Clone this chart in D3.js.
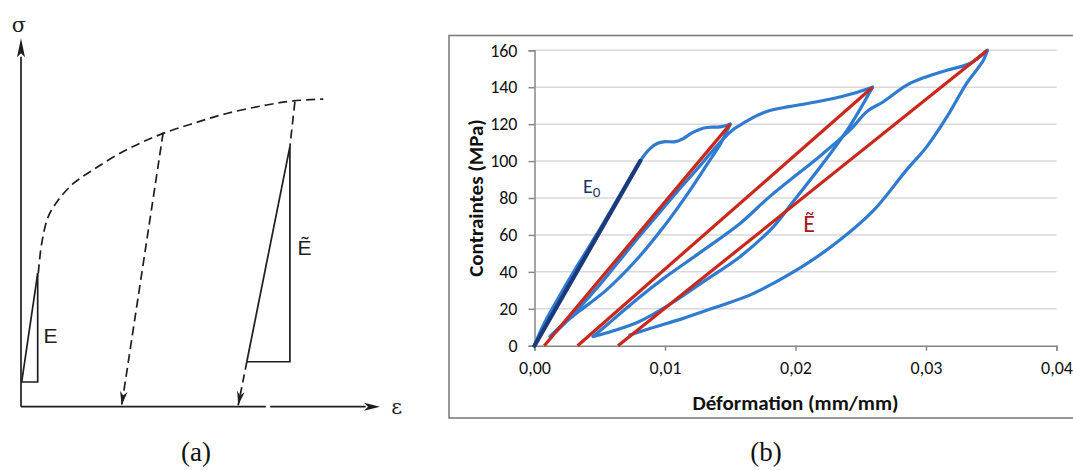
<!DOCTYPE html>
<html><head><meta charset="utf-8">
<script src="https://cdn.jsdelivr.net/npm/d3@7"></script>
<style>body{margin:0;background:#fff} svg{display:block}</style>
</head><body>
<svg id="c" width="1073" height="470"></svg>
<script>
// ================= Panel (b) data =================
const yTicks = [0, 20, 40, 60, 80, 100, 120, 140, 160];
const xTicks = [0, 0.01, 0.02, 0.03, 0.04];
const xTickLabels = ["0,00", "0,01", "0,02", "0,03", "0,04"];
const yTitle = "Contraintes (MPa)";
const xTitle = "Déformation (mm/mm)";

// first loading (then plastic plateau up to 120 MPa)
const load1 = [[0,0],[0.0005,8.5],[0.001,15.5],[0.002,28],[0.003,40],[0.004,51.5],[0.005,63],[0.006,75],[0.007,87],[0.0081,100],
  [0.0085,104],[0.0089,107],[0.0094,109.5],[0.0100,110.5],[0.0108,110.5],[0.0114,112.2],[0.0120,115],[0.0126,117],[0.0132,118.2],[0.0142,118.5],[0.0150,120]];
const unload1 = [[0.0150,120],[0.0143,110],[0.0133,99],[0.0119,84],[0.0099,64.4],[0.0078,46.4],[0.0055,30.1],[0.0032,17.5],[0.0020,10.5],[0.0012,5]];
const reload1 = [[0.0012,5],[0.0020,10],[0.0035,21],[0.0050,33],[0.0065,46],[0.0080,59],[0.0095,71.5],[0.0110,84],[0.0125,96],[0.0137,106],[0.0146,113],
  [0.0153,117.5],[0.0160,120.5],[0.0170,124.5],[0.0181,127.5],[0.0195,129.5],[0.0209,131.2],[0.0229,133.9],[0.0244,136.6],[0.0259,140]];
const unload2 = [[0.0259,140],[0.0242,119.4],[0.0221,98.7],[0.0198,77.9],[0.0183,64.4],[0.01575,48.2],[0.0130,35],[0.0105,23],[0.0080,13],[0.0060,8],[0.0045,5]];
const reload2 = [[0.0045,5],[0.0060,14],[0.0080,26],[0.0100,37],[0.0126,50],[0.01575,66.2],[0.0180,80.6],[0.0221,104],[0.0242,117],[0.0255,127],
  [0.0267,132],[0.0285,141],[0.0300,145.6],[0.0316,149.2],[0.0334,153],[0.0347,160]];
const unload3 = [[0.0347,160],[0.0344,154.6],[0.0331,142],[0.0316,123.9],[0.03005,107.7],[0.0285,95.1],[0.0260,73.4],[0.0234,57.2],[0.0209,44.6],
  [0.0183,33.8],[0.0165,27.4],[0.0140,21.1],[0.0114,14.8],[0.0089,9.4],[0.0073,5.8]];
const blueCurves = [load1, unload1, reload1, unload2, reload2, unload3];

const e0Line = [[0,0],[0.0081,100]];
const redLine1 = [[0.00075,0],[0.0150,120]];
const redLine2 = [[0.0033,0],[0.0259,140]];
const redLine3 = [[0.0064,0],[0.0347,160]];
const redLines = [redLine1, redLine2, redLine3];

// ================= Panel (a) data (schematic units 0..100) =================
const envelopeSolid = [[0.19,6.7],[4.65,36.2]];
const envelopeDashed = [[4.82,36.2],[5.77,44.35],[7.6,51.6],[10.4,56.1],[14.6,60.6],[20.1,64.3],[26.7,68.3],[33.1,71.5],[39.6,74.2],
  [48.0,76.9],[57.3,79.6],[68.4,81.9],[75.8,83.0],[84.2,83.5]];
const unloadA1 = [[39.6,74.4],[28.05,0.4]];
const unloadA2Top = [[76.3,82.8],[74.9,70.6]];
const unloadA2Solid = [[74.9,70.6],[62.9,12.2]];
const unloadA2Bottom = [[62.9,12.2],[60.5,0.4]];
const triE = [[0,6.7],[4.65,6.7],[4.65,36.2]];
const triEt = [[62.9,12.2],[74.9,12.2],[74.9,70.6]];
const axisBreak = [68.2, 69.4];

// ================= drawing =================
const svg = d3.select("#c");

// ---------- panel (b) ----------
const x = d3.scaleLinear().domain([0, 0.04]).range([534.5, 1056.5]);
const y = d3.scaleLinear().domain([0, 160]).range([345.7, 50.3]);
const bFont = "Carlito, Lato, 'Open Sans', sans-serif";

svg.append("rect").attr("x", 449).attr("y", 35.5).attr("width", 640).attr("height", 382.5)
  .attr("fill", "#fff").attr("stroke", "#7f7f7f").attr("stroke-width", 1.6);

// gridlines
svg.append("g").selectAll("line").data(yTicks.filter(d => d > 0)).join("line")
  .attr("x1", x(0)).attr("x2", x(0.04)).attr("y1", d => y(d)).attr("y2", d => y(d))
  .attr("stroke", "#d9d9d9").attr("stroke-width", 1.5);

// y axis
const yAxis = svg.append("g").attr("transform", `translate(${x(0)},0)`)
  .call(d3.axisLeft(y).tickValues(yTicks).tickSize(6).tickPadding(11).tickFormat(d3.format("d")));
// x axis
const xAxis = svg.append("g").attr("transform", `translate(0,${y(0)})`)
  .call(d3.axisBottom(x).tickValues(xTicks).tickSize(5).tickPadding(11).tickFormat((d, i) => xTickLabels[i]));
[yAxis, xAxis].forEach(g => {
  g.select(".domain").attr("stroke", "#868686").attr("stroke-width", 1.5);
  g.selectAll(".tick line").attr("stroke", "#868686").attr("stroke-width", 1.5);
  g.selectAll("text").attr("font-family", bFont).attr("font-size", 18).attr("fill", "#111");
});

const lineB = d3.line().x(d => x(d[0])).y(d => y(d[1]));
const curveB = d3.line().x(d => x(d[0])).y(d => y(d[1])).curve(d3.curveCatmullRom.alpha(0.5));

svg.append("g").selectAll("path").data(blueCurves).join("path")
  .attr("d", curveB).attr("fill", "none").attr("stroke", "#2f7bcf").attr("stroke-width", 3.2)
  .attr("stroke-linejoin", "round").attr("stroke-linecap", "round");
svg.append("g").selectAll("path").data(redLines).join("path")
  .attr("d", lineB).attr("fill", "none").attr("stroke", "#c9281d").attr("stroke-width", 3.2);
svg.append("path").datum(e0Line).attr("d", lineB).attr("fill", "none")
  .attr("stroke", "#1b3a7c").attr("stroke-width", 4.2).attr("stroke-linecap", "round");

// annotations
const e0 = svg.append("text").attr("x", x(0.00372)).attr("y", y(82.6))
  .attr("font-family", bFont).attr("font-size", 20).attr("fill", "#1c3564");
e0.text("E");
e0.append("tspan").attr("font-size", 15).attr("dy", 4).text("0");
svg.append("text").attr("x", x(0.0206)).attr("y", y(61.5))
  .attr("font-family", bFont).attr("font-size", 24).attr("fill", "#a3171b").text("Ẽ");

// axis titles
svg.append("text").attr("transform", `translate(476,${(y(0) + y(160)) / 2}) rotate(-90)`)
  .attr("text-anchor", "middle").attr("dy", "0.35em")
  .attr("font-family", bFont).attr("font-weight", "bold").attr("font-size", 21).attr("fill", "#111").text(yTitle);
svg.append("text").attr("x", (x(0) + x(0.04)) / 2).attr("y", 410)
  .attr("text-anchor", "middle")
  .attr("font-family", bFont).attr("font-weight", "bold").attr("font-size", 21).attr("fill", "#111").text(xTitle);

// ---------- panel (a) ----------
const xa = d3.scaleLinear().domain([0, 100]).range([21, 380]);
const ya = d3.scaleLinear().domain([0, 100]).range([406.7, 38.3]);
const lineA = d3.line().x(d => xa(d[0])).y(d => ya(d[1]));
const curveA = d3.line().x(d => xa(d[0])).y(d => ya(d[1])).curve(d3.curveCatmullRom.alpha(0.5));
const ink = "#1e1e1e";
const ga = svg.append("g").attr("fill", "none").attr("stroke", ink).attr("stroke-width", 1.7);

// axes
ga.append("path").datum([[0, 0], [0, 95]]).attr("d", lineA);
ga.append("path").datum([[0, 0], [axisBreak[0], 0]]).attr("d", lineA);
ga.append("path").datum([[axisBreak[1], 0], [96, 0]]).attr("d", lineA);
// arrowheads on axes
const tipY = [xa(0), ya(100)];
svg.append("path").attr("d", `M${tipY[0]},${tipY[1]} L${tipY[0] - 4},${tipY[1] + 19} L${tipY[0]},${tipY[1] + 15} L${tipY[0] + 4},${tipY[1] + 19} Z`).attr("fill", ink);
const tipX = [xa(100), ya(0)];
svg.append("path").attr("d", `M${tipX[0]},${tipX[1]} L${tipX[0] - 16},${tipX[1] - 4} L${tipX[0] - 12},${tipX[1]} L${tipX[0] - 16},${tipX[1] + 4} Z`).attr("fill", ink);

// envelope
ga.append("path").datum(envelopeSolid).attr("d", lineA);
ga.append("path").datum(envelopeDashed).attr("d", curveA).attr("stroke-dasharray", "9,5");
// triangles
ga.append("path").datum(triE).attr("d", lineA);
ga.append("path").datum(triEt).attr("d", lineA);
// unloading lines
ga.append("path").datum(unloadA1).attr("d", lineA).attr("stroke-dasharray", "9,5");
ga.append("path").datum(unloadA2Top).attr("d", lineA).attr("stroke-dasharray", "9,5");
ga.append("path").datum(unloadA2Solid).attr("d", lineA);
ga.append("path").datum(unloadA2Bottom).attr("d", lineA).attr("stroke-dasharray", "8,5");

function arrowHead(seg) {
  const p0 = [xa(seg[0][0]), ya(seg[0][1])], p1 = [xa(seg[1][0]), ya(seg[1][1])];
  const dx = p1[0] - p0[0], dy = p1[1] - p0[1], L = Math.hypot(dx, dy);
  const ux = dx / L, uy = dy / L, nx = -uy, ny = ux;
  const len = 14, w = 3.8;
  const b = [p1[0] - ux * len, p1[1] - uy * len];
  const n = [p1[0] - ux * len * 0.7, p1[1] - uy * len * 0.7];
  svg.append("path").attr("d", `M${p1[0]},${p1[1]} L${b[0] + nx * w},${b[1] + ny * w} L${n[0]},${n[1]} L${b[0] - nx * w},${b[1] - ny * w} Z`)
    .attr("fill", ink);
}
arrowHead(unloadA1);
arrowHead(unloadA2Bottom);

// labels panel (a)
const aFont = "'Liberation Sans', Arial, sans-serif";
svg.append("text").attr("x", xa(-0.56)).attr("y", ya(101.7)).attr("text-anchor", "middle")
  .attr("font-family", "'DejaVu Serif', serif").attr("font-size", 21).attr("fill", ink).text("σ");
svg.append("text").attr("x", xa(104.65)).attr("y", ya(-2.1)).attr("text-anchor", "middle")
  .attr("font-family", "'DejaVu Serif', serif").attr("font-size", 21).attr("fill", ink).text("ε");
svg.append("text").attr("x", xa(6.3)).attr("y", ya(17.2))
  .attr("font-family", aFont).attr("font-size", 21).attr("fill", ink).text("E");
svg.append("text").attr("x", xa(77.0)).attr("y", ya(41.2))
  .attr("font-family", aFont).attr("font-size", 21).attr("fill", ink).text("Ẽ");

// captions
const capFont = "'Liberation Serif', 'DejaVu Serif', serif";
svg.append("text").attr("x", 196).attr("y", 461).attr("text-anchor", "middle")
  .attr("font-family", capFont).attr("font-size", 27).attr("fill", "#111").text("(a)");
svg.append("text").attr("x", 766).attr("y", 461).attr("text-anchor", "middle")
  .attr("font-family", capFont).attr("font-size", 27).attr("fill", "#111").text("(b)");
</script>
</body></html>
